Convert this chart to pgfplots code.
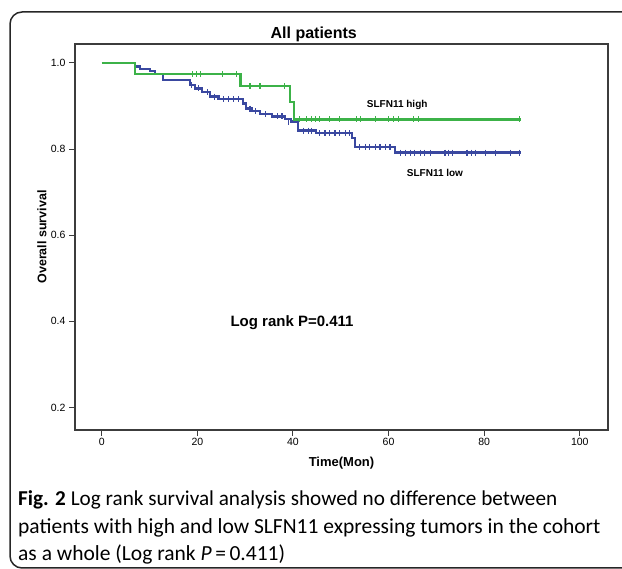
\documentclass[border=0pt]{standalone}
\usepackage{pgfplots}
\pgfplotsset{compat=1.18}
\usepackage{fontspec}
\setmainfont{Liberation Sans}
\newfontfamily\capfont{Carlito}
\definecolor{kmgreen}{RGB}{60,178,72}
\definecolor{kmblue}{RGB}{58,72,160}
\definecolor{axgray}{RGB}{60,60,60}
\begin{document}
\begin{tikzpicture}
\useasboundingbox (0pt,0pt) rectangle (622pt,569pt);
\begin{scope}
\clip (0pt,0pt) rectangle (622pt,569pt);
\draw[line width=1.5pt, draw=black!85, rounded corners=12pt] (10pt,1pt) rectangle (660pt,557pt);
\end{scope}
\begin{axis}[
  at={(75pt,139pt)}, anchor=south west, scale only axis,
  width=533pt, height=386pt,
  xmin=-5.6, xmax=105.9, ymin=0.1477, ymax=1.0441,
  axis line style={draw=axgray, line width=1.1pt},
  xtick={0,20,40,60,80,100}, ytick={0.2,0.4,0.6,0.8,1.0},
  yticklabel style={/pgf/number format/.cd, fixed, fixed zerofill, precision=1},
  /pgf/number format/assume math mode=true,
  tick align=outside, tick pos=left, major tick length=6pt,
  tick style={draw=axgray, line width=1pt},
  ticklabel style={font=\fontsize{10.5}{12}\selectfont},
  xticklabel style={yshift=1pt},
  xlabel={Time(Mon)}, ylabel={Overall survival},
  xlabel style={font=\fontsize{13}{15}\selectfont\bfseries, at={(axis description cs:0.5,-0.085)}, anchor=center},
  ylabel style={font=\fontsize{12.5}{15}\selectfont\bfseries, at={(axis description cs:-0.062,0.5)}, anchor=center},
  title={All patients},
  title style={font=\fontsize{16}{18}\selectfont\bfseries, at={(axis description cs:0.448,1)}, anchor=base, yshift=-0.5pt},
  clip=false,
]
% SLFN11 low (blue)
\addplot[const plot, kmblue, line width=2.3pt] coordinates {
(0,1.0) (7.0,0.992) (8.0,0.986) (10.1,0.981) (11.1,0.974) (12.8,0.960)
(18.5,0.949) (19.5,0.941) (20.9,0.932) (22.6,0.922) (24.4,0.916) (29.6,0.906)
(30.2,0.894) (31.4,0.888) (33.1,0.882) (35.6,0.876) (38.4,0.870) (39.6,0.864)
(41.1,0.843) (44.8,0.837) (52.3,0.826) (53.0,0.805) (61.4,0.792) (87.6,0.792)
};
\addplot[only marks, mark=|, mark size=3pt, kmblue, mark options={line width=1.1pt}] coordinates {
(18.8,0.949) (20.2,0.941) (22.1,0.932) (23.6,0.922)
(25.4,0.916) (26.5,0.916) (27.5,0.916) (28.6,0.916)
(31.0,0.894) (32.1,0.888) (34.2,0.882) (36.7,0.876) (37.7,0.876) (39.0,0.864)
(42.2,0.843) (43.2,0.843) (43.9,0.843)
(45.6,0.837) (46.7,0.837) (47.7,0.837) (48.8,0.837) (49.8,0.837) (50.9,0.837) (51.9,0.837)
(54.0,0.805) (55.1,0.805) (56.1,0.805) (57.2,0.805) (58.2,0.805) (59.3,0.805) (60.3,0.805)
(62.4,0.792) (63.5,0.792) (64.5,0.792) (65.5,0.792) (66.6,0.792) (67.6,0.792) (68.7,0.792)
(71.8,0.792) (72.5,0.792) (73.3,0.792) (76.4,0.792) (77.3,0.792) (78.2,0.792)
(80.3,0.792) (82.4,0.792) (85.5,0.792) (87.3,0.792)
};
% SLFN11 high (green)
\addplot[const plot, kmgreen, line width=2.3pt] coordinates {
(0,1.0) (7.0,0.974) (29.0,0.946) (39.4,0.910) (40.2,0.869) (87.6,0.869)
};
\addplot[only marks, mark=|, mark size=3pt, kmgreen, mark options={line width=1.1pt}] coordinates {
(19.0,0.974) (19.8,0.974) (20.7,0.974) (25.3,0.974) (28.2,0.974)
(31.0,0.946) (33.1,0.946) (38.3,0.946)
(41.4,0.869) (42.9,0.869) (43.9,0.869) (44.8,0.869) (45.6,0.869) (47.7,0.869)
(49.8,0.869) (53.3,0.869) (54.2,0.869) (57.2,0.869) (60.0,0.869) (61.0,0.869)
(62.1,0.869) (65.2,0.869) (66.3,0.869) (87.3,0.869)
};
\node[font=\fontsize{10}{12}\selectfont\bfseries] at (axis cs:61.8,0.902) {SLFN11 high};
\node[font=\fontsize{10}{12}\selectfont\bfseries] at (axis cs:69.7,0.745) {SLFN11 low};
\node[font=\fontsize{15}{17}\selectfont\bfseries] at (axis cs:39.8,0.397) {Log rank P=0.411};
\end{axis}
\node[anchor=base west, font=\capfont\fontsize{21.2}{24}\selectfont, inner sep=0pt] at (18pt,63pt) {\textbf{Fig. 2} Log rank survival analysis showed no difference between};
\node[anchor=base west, font=\capfont\fontsize{21.5}{24}\selectfont, inner sep=0pt] at (18pt,35pt) {patients with high and low SLFN11 expressing tumors in the cohort};
\node[anchor=base west, font=\capfont\fontsize{21.5}{24}\selectfont, inner sep=0pt] at (18pt,8pt) {as a whole (Log rank \textit{P}\,=\,0.411)};
\end{tikzpicture}
\end{document}
